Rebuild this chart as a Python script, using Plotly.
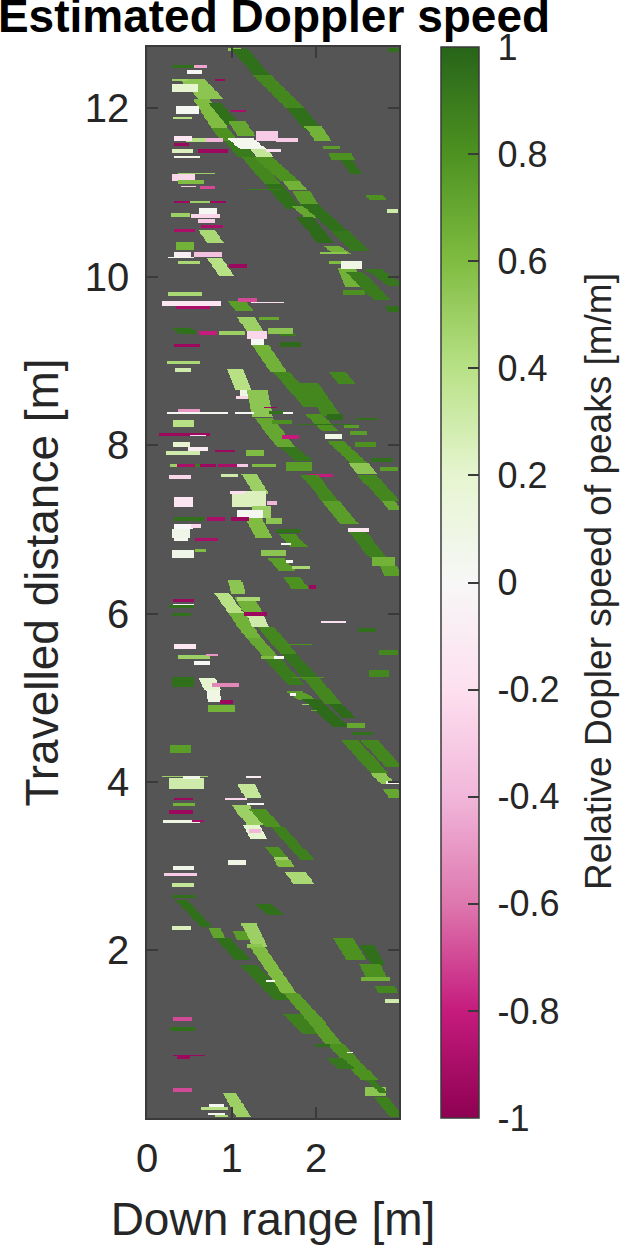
import numpy as np
import plotly.graph_objects as go

# streaks: (y_top, y_bottom, x_centre_top, x_centre_bottom, width, value)
far_upper = [
 (12.72,12.69,1.04,1.04,.16,.55),(12.70,12.40,1.10,1.35,.2,.95),(12.40,12.01,1.35,1.75,.22,.85),
 (12.01,11.75,1.75,1.96,.2,.95),(11.79,11.61,1.96,2.08,.2,.65),(11.55,11.51,2.18,2.18,.2,.75),
 (11.47,11.38,2.28,2.32,.28,.8),(11.38,11.22,2.36,2.48,.14,.95),(12.71,12.67,2.91,2.91,.12,.95),
 (10.98,10.92,2.68,2.72,.2,.8),(10.80,10.76,2.9,2.9,.14,.3),
]
main_upper_a = [
 (12.36,12.11,.52,.76,.3,.55),(12.11,11.77,.64,.86,.2,.6),(11.77,11.61,.86,.98,.2,.8),
 (11.61,11.42,1.02,1.18,.2,.9),(11.42,11.10,1.21,1.49,.2,.85),(11.10,10.80,1.49,1.75,.2,.95),
 (11.05,11.03,1.38,1.38,.4,.9),(10.84,10.70,1.81,1.98,.2,.7),(10.72,10.39,1.85,2.12,.2,.97),
 (10.37,10.27,2.17,2.32,.2,.65),(10.29,10.27,2.2,2.2,.32,.55),
]
main_upper_b = [
 (12.07,11.81,.80,1.02,.16,.95),(11.85,11.67,1.06,1.18,.2,.7),(11.55,11.42,1.28,1.4,.2,.35),
 (11.65,11.51,1.10,1.26,.3,.05),(11.42,11.14,1.37,1.69,.22,.8),(11.14,11.04,1.7,1.78,.2,.65),
 (11.02,10.86,1.82,1.92,.2,.75),(10.86,10.54,1.92,2.28,.2,.95),(10.54,10.31,2.28,2.52,.22,.92),
 (10.19,10.15,2.22,2.22,.14,.6),(10.10,9.87,2.36,2.46,.22,.65),(9.85,9.79,2.45,2.45,.26,.8),
 (10.07,9.73,2.44,2.77,.2,.9),(10.09,9.89,2.67,2.95,.2,.92),(10.19,10.09,2.42,2.42,.26,.1),
 (9.66,9.58,2.88,2.93,.16,.95),
]
left_upper = [
 (12.52,12.48,.43,.43,.26,.95),(12.52,12.48,.63,.63,.16,-.45),(12.45,12.41,.56,.56,.18,.02),
 (12.36,12.32,.39,.39,.18,.5),(12.36,12.32,.87,.87,.12,-.95),(12.29,12.20,.45,.45,.3,.2),
 (12.03,11.93,.48,.48,.26,.03),(11.90,11.87,.42,.42,.22,.4),(11.98,11.96,1.08,1.08,.16,-.9),
 (11.64,11.60,.66,.66,.4,.4),(11.65,11.60,.80,.80,.2,-.4),(11.67,11.61,.43,.43,.2,-.15),
 (11.58,11.55,.41,.41,.16,-.95),(11.51,11.47,.42,.42,.24,.25),(11.51,11.47,.78,.78,.36,-.95),
 (11.44,11.41,.47,.47,.3,.1),(11.73,11.61,1.42,1.42,.26,-.3),(11.64,11.60,1.66,1.66,.26,-.3),
 (11.51,11.49,1.5,1.5,.18,-.2),(11.24,11.22,.59,.59,.44,.5),(11.22,11.14,.43,.43,.26,-.25),
 (11.15,11.11,.52,.52,.3,.6),(11.08,11.06,.49,.49,.18,-.3),(11.08,11.05,.72,.72,.18,-.7),
 (10.91,10.87,.63,.63,.62,-.95),(10.91,10.87,.62,.62,.24,.5),(10.82,10.74,.72,.72,.22,.03),
 (10.76,10.72,.4,.4,.22,.5),(10.74,10.70,.69,.69,.34,-.25),(10.68,10.64,.70,.70,.2,-.3),
 (10.56,10.39,.7,.82,.2,.45),(10.62,10.58,.77,.77,.26,-.9),(10.57,10.53,.44,.44,.24,-.9),
 (10.41,10.33,.45,.45,.2,.65),(10.29,10.23,.42,.42,.2,-.1),(10.29,10.23,.72,.72,.34,-.35),
 (10.24,10.22,.4,.4,.3,.05),(10.19,10.15,.5,.5,.25,.45),(10.22,10.0,.8,.95,.18,.4),
 (10.15,10.11,1.07,1.07,.2,-.95),(9.82,9.78,.45,.45,.4,.45),(9.72,9.66,.53,.53,.7,-.15),
 (9.65,9.61,.55,.55,.4,-.9),(9.72,9.60,1.05,1.15,.2,.75),(9.74,9.70,1.19,1.19,.22,-.7),
 (9.70,9.68,1.42,1.42,.4,-.2),
]
middle_a = [
 (9.52,9.34,1.17,1.28,.2,.5),(9.52,9.48,1.44,1.44,.25,.7),(9.40,9.32,1.58,1.58,.3,.55),
 (9.33,9.29,1.67,1.67,.2,.9),(9.40,9.32,.4,.5,.22,.95),(9.35,9.31,.72,.72,.22,-.8),
 (9.35,9.31,1.0,1.0,.3,.5),(9.35,9.26,1.3,1.3,.24,-.25),(9.26,9.20,1.3,1.3,.16,.02),
 (9.20,8.88,1.33,1.55,.2,.65),(8.88,8.45,1.58,1.96,.2,.85),(8.37,8.17,1.96,2.16,.2,.8),
 (9.22,9.17,1.7,1.7,.26,.97),(9.21,9.17,.47,.47,.3,-.95),(9.00,8.96,.43,.43,.38,.45),
 (8.92,8.88,.43,.43,.18,.3),(8.90,8.65,1.04,1.14,.18,.4),(8.65,8.57,1.2,1.2,.2,.1),
 (8.59,8.55,1.18,1.18,.24,-.25),(8.65,8.34,1.3,1.36,.25,.55),(8.33,7.97,1.37,1.65,.22,.7),
 (7.97,7.82,1.68,1.85,.2,.92),(8.46,8.44,1.46,1.46,.15,-.95),(8.41,8.37,1.53,1.53,.18,.95),
 (8.39,8.37,1.15,1.15,.22,.02),(8.39,8.37,1.67,1.67,.12,.02),(8.43,8.39,.5,.5,.25,-.5),
 (8.40,8.37,.6,.6,.72,.03),(8.29,8.22,.43,.43,.24,.4),(8.29,8.25,1.6,1.6,.24,.8),
 (8.25,8.23,2.1,2.1,.65,.95),(8.33,8.29,2.6,2.6,.25,.95),(8.15,8.11,.45,.45,.6,-.95),
 (8.12,8.10,.6,.6,.2,-.2),(8.12,8.08,1.7,1.7,.2,-.8),(8.14,8.08,2.2,2.2,.2,.1),
 (8.16,8.12,2.5,2.5,.2,.75),(8.24,8.20,2.42,2.42,.18,.75),(8.03,7.97,.41,.41,.2,.2),
 (8.03,7.97,2.58,2.58,.24,.8),(7.93,7.89,.43,.43,.4,.3),(7.97,7.93,.6,.6,.24,-.1),
 (7.95,7.91,.93,.93,.24,-.95),(7.95,7.88,1.27,1.27,.22,.6),
]
middle_row = [
 (7.77,7.74,.33,.33,.1,.5),(7.77,7.74,.46,.46,.2,-.9),(7.77,7.74,.6,.6,.08,.9),
 (7.77,7.74,.72,.72,.2,-.95),(7.77,7.74,.96,.96,.24,-.9),(7.77,7.74,1.13,1.13,.12,-.3),
 (7.77,7.74,1.38,1.38,.28,.6),
]
middle_b = [
 (7.80,7.70,1.8,1.8,.3,.75),(7.66,7.62,2.05,2.05,.3,-.8),(7.64,7.34,1.92,2.16,.2,.85),
 (7.34,7.06,2.16,2.4,.22,.75),(8.05,7.78,2.22,2.52,.2,.8),(7.78,7.66,2.5,2.6,.22,.55),
 (7.64,7.34,2.6,2.87,.22,.85),(7.34,7.24,2.84,2.93,.16,.7),(7.74,7.70,2.86,2.86,.22,.75),
 (7.84,7.80,2.77,2.77,.26,.95),(8.75,8.35,1.9,2.18,.22,.85),(8.88,8.73,2.24,2.36,.2,.85),
 (8.37,8.29,2.22,2.22,.18,.97),(7.66,7.62,.98,.98,.2,.3),(7.64,7.60,.39,.39,.25,-.25),
 (7.66,7.42,1.2,1.35,.18,.5),(7.46,7.26,1.21,1.21,.4,.25),(7.46,7.42,1.07,1.07,.17,-.2),
 (7.38,7.27,.43,.43,.22,-.15),(7.34,7.30,1.48,1.48,.12,-.4),(7.28,7.14,1.35,1.35,.22,.5),
 (7.24,7.14,1.22,1.22,.3,.03),(7.14,7.06,1.5,1.5,.2,.55),(7.14,6.90,1.25,1.38,.2,.6),
 (7.15,7.11,.5,.5,.35,.95),(7.15,7.11,.82,.82,.22,-.9),(7.15,7.11,1.1,1.1,.2,-.95),
 (7.06,7.00,.43,.43,.22,.0),(7.06,7.02,.58,.58,.12,-.25),(7.00,6.90,.4,.4,.2,.08),
 (6.90,6.86,.4,.4,.16,.05),(6.90,6.86,.7,.7,.28,-.9),(7.00,6.96,1.67,1.67,.3,.95),
 (7.02,6.98,2.5,2.5,.24,-.15),(6.98,6.66,2.48,2.73,.2,.88),(6.67,6.57,2.79,2.79,.28,.65),
 (6.57,6.45,2.85,2.9,.2,.75),(6.95,6.79,1.65,1.8,.2,.8),(6.85,6.81,1.65,1.65,.12,.02),
 (6.75,6.69,1.5,1.5,.3,.55),(6.75,6.65,.43,.43,.25,.08),(6.77,6.73,.63,.63,.14,.6),
 (6.65,6.51,1.53,1.66,.2,.75),(6.64,6.60,1.69,1.69,.08,.02),(6.57,6.53,1.82,1.82,.2,.45),
 (6.44,6.29,1.71,1.81,.2,.8),(6.34,6.30,1.95,1.95,.08,-.95),
]
pair_a = [
 (6.39,6.23,1.04,1.08,.16,.55),(6.25,6.0,.88,1.06,.18,.4),(6.0,5.72,1.06,1.25,.18,.65),
 (5.72,5.48,1.25,1.47,.18,.7),(5.48,5.15,1.47,1.77,.2,.9),(5.07,4.97,1.75,1.9,.2,.75),
 (4.99,4.65,1.92,2.3,.2,.97),(4.49,4.10,2.4,2.75,.2,.85),(4.10,3.98,2.72,2.85,.18,.55),
 (4.02,3.98,2.92,2.92,.2,.02),(3.92,3.82,2.87,2.94,.18,.7),
]
pair_b = [
 (6.19,6.02,1.15,1.25,.22,.65),(6.19,6.15,1.2,1.2,.26,.45),(6.02,5.98,1.28,1.28,.28,-.95),
 (5.97,5.84,1.28,1.34,.2,.3),(5.84,5.52,1.4,1.68,.2,.85),(5.52,5.24,1.68,1.93,.18,.93),
 (5.24,4.93,1.93,2.2,.2,.85),(4.93,4.75,2.22,2.4,.16,.97),(5.64,5.62,1.8,1.8,.3,.8),
 (5.25,5.23,1.9,1.9,.37,.8),(4.70,4.64,2.47,2.47,.22,.7),(4.59,4.55,2.55,2.55,.24,.95),
 (4.49,4.18,2.63,2.91,.2,.85),(5.06,5.02,1.73,1.73,.08,.02),(4.93,4.91,1.87,1.87,.07,.5),
 (4.86,4.84,1.97,1.97,.08,.7),(5.50,5.46,1.45,1.45,.2,.6),(5.50,5.47,1.56,1.56,.12,.02),
]
left_lower = [
 (6.18,6.14,.43,.43,.24,-.95),(6.12,6.10,.43,.43,.24,-.05),(6.10,6.06,.41,.41,.28,.95),
 (6.01,5.97,.41,.41,.22,.95),(5.64,5.58,.45,.45,.26,-.15),(5.51,5.47,.56,.56,.38,.5),
 (5.52,5.49,.77,.77,.14,-.5),(5.44,5.40,.65,.65,.2,.02),(5.25,5.14,.43,.43,.25,.95),
 (5.24,5.09,.7,.78,.2,.2),(5.09,4.95,.78,.8,.16,.1),(5.18,5.14,.93,.93,.32,-.55),
 (4.97,4.93,.94,.94,.16,-.95),(4.92,4.83,.88,.88,.33,.65),(5.92,5.88,2.2,2.2,.3,-.2),
 (5.83,5.79,2.6,2.6,.2,.95),(5.57,5.51,2.85,2.85,.22,.85),(5.34,5.25,2.74,2.74,.24,.85),
 (4.44,4.35,.4,.4,.24,.75),(4.08,4.06,.45,.45,.55,.5),(4.05,3.92,.47,.47,.4,.3),
 (4.07,4.03,.52,.52,.2,.1),(4.08,4.04,1.26,1.26,.18,-.1),(3.82,3.78,.43,.43,.22,-.95),
 (3.75,3.71,.44,.44,.25,.65),(3.67,3.63,.4,.4,.27,-.95),(3.55,3.51,.41,.41,.43,.1),
 (3.55,3.53,.6,.6,.14,-.9),
]
cluster_lower = [
 (3.98,3.82,1.17,1.25,.2,.35),(3.82,3.78,1.05,1.05,.26,-.25),(3.76,3.72,1.28,1.28,.2,.02),
 (3.73,3.5,1.1,1.27,.2,.5),(3.5,3.32,1.22,1.32,.2,.2),(3.44,3.40,1.27,1.27,.15,-.4),
 (3.68,3.46,1.3,1.5,.2,.8),(3.46,3.07,1.55,1.9,.16,.88),(3.24,3.10,1.47,1.58,.17,.8),
 (3.10,2.99,1.58,1.65,.17,.5),(3.07,2.98,1.6,1.65,.2,.6),(3.07,3.01,1.06,1.06,.2,.1),
 (3.00,2.96,.43,.43,.24,.08),(2.93,2.79,1.75,1.85,.24,.45),(2.91,2.88,.4,.4,.38,-.3),
 (2.80,2.76,.43,.43,.25,.35),(2.66,2.62,.44,.44,.27,.95),
]
bottom_a = [
 (2.59,2.28,.41,.7,.14,.95),(2.26,2.14,.8,.86,.14,.72),(2.14,1.88,.9,1.14,.18,.95),
 (1.82,1.41,1.2,1.6,.2,.93),(2.55,2.42,1.37,1.52,.2,.95),(2.29,2.25,.41,.41,.22,.25),
 (2.32,2.04,1.2,1.33,.18,.5),(2.24,2.12,1.08,1.14,.14,.75),(2.07,2.03,1.27,1.27,.18,.55),
 (2.04,1.49,1.3,1.68,.18,.6),(1.49,1.21,1.7,1.95,.18,.75),(1.25,1.0,1.71,1.96,.22,.88),
 (1.21,.89,1.95,2.2,.2,.75),(.89,.46,2.22,2.63,.2,.8),(.38,.28,2.7,2.7,.24,.55),
]
bottom_b = [
 (.46,.3,2.63,2.8,.1,.9),(.26,.02,2.75,2.95,.17,.88),(.89,.85,2.07,2.07,.18,.95),
 (.73,.6,2.2,2.35,.2,.92),(.80,.78,2.4,2.4,.07,.02),(1.65,1.63,1.46,1.46,.1,.02),
 (2.14,1.88,2.32,2.48,.24,.8),(2.06,1.82,2.6,2.73,.16,.95),(1.84,1.66,2.63,2.72,.24,.8),
 (1.68,1.64,2.7,2.7,.34,.65),(1.58,1.49,2.8,2.85,.24,.85),(1.42,1.38,2.89,2.89,.16,.3),
 (1.20,1.16,.42,.42,.22,-.7),(1.08,1.04,.42,.42,.28,.95),(.76,.74,.5,.5,.37,-.95),
 (.75,.71,.43,.43,.15,-.95),(.36,.32,.42,.42,.22,-.7),(.3,.02,.98,1.14,.16,.5),
 (.14,.10,.8,.8,.33,.4),(.18,.14,.82,.82,.18,.05),(.07,.05,.82,.82,.2,.05),(.05,.01,.88,.88,.16,.45),
]
streak_groups = [far_upper, main_upper_a, main_upper_b, left_upper, middle_a, middle_row,
                 middle_b, pair_a, pair_b, left_lower, cluster_lower, bottom_a, bottom_b]

colorbar_ticks = [1,.8,.6,.4,.2,0,-.2,-.4,-.6,-.8,-1]
colorbar_labels = ["1","0.8","0.6","0.4","0.2","0","-0.2","-0.4","-0.6","-0.8","-1"]

xg = np.arange(0.006, 2.985, 0.012)
yg = np.arange(0.007, 12.74, 0.0145)
z = np.full((yg.size, xg.size), np.nan)
for group in streak_groups:
    for y1, y2, x1, x2, w, v in group:
        rows = np.where((yg <= y1) & (yg >= y2))[0]
        if rows.size == 0:
            rows = np.array([np.argmin(abs(yg - (y1 + y2) / 2))])
        for r in rows:
            t = (y1 - yg[r]) / max(y1 - y2, 1e-6)
            c = x1 + (x2 - x1) * t
            z[r, (xg >= c - w / 2) & (xg <= c + w / 2)] = v

ink = "#262626"
frame = "#3a3a3a"
fnt = "Liberation Sans"
fig = go.Figure(go.Heatmap(
    x=xg, y=yg, z=z, zmin=-1, zmax=1, colorscale="PiYG", hoverongaps=False,
    colorbar=dict(
        x=441/620, xref="container", xanchor="left", thickness=38, thicknessmode="pixels",
        y=0, yanchor="bottom", len=1, lenmode="fraction",
        outlinecolor=frame, outlinewidth=1.5, ticks="inside", ticklen=11, tickcolor=frame, tickwidth=1.5,
        tickvals=colorbar_ticks, ticktext=["\u00a0" + s for s in colorbar_labels],
        tickfont=dict(family=fnt, size=36, color=ink), ypad=0, xpad=0),
))
fig.update_layout(
    width=620, height=1249, paper_bgcolor="white", plot_bgcolor="#555555",
    margin=dict(l=147, r=221, t=47, b=131), showlegend=False,
    title=dict(text="<b>Estimated Doppler speed</b>", x=274/620, xanchor="center", xref="container",
               y=1, yanchor="top", yref="container",
               font=dict(family=fnt, size=46, color="black"), pad=dict(t=0)),
    xaxis=dict(range=[0, 2.98], tickvals=[0,1,2], ticks="inside", ticklen=11, tickcolor=frame, tickwidth=1.5,
               mirror="allticks", showline=True, linecolor=frame, linewidth=1.5, showgrid=False, zeroline=False,
               tickfont=dict(family=fnt, size=40, color=ink), ticklabelstandoff=4,
               title=dict(text="Down range [m]", font=dict(family=fnt, size=46, color=ink), standoff=24)),
    yaxis=dict(range=[0.01, 12.73], tickvals=[2,4,6,8,10,12], ticks="inside", ticklen=11, tickcolor=frame, tickwidth=1.5,
               mirror="allticks", showline=True, linecolor=frame, linewidth=1.5, showgrid=False, zeroline=False,
               tickfont=dict(family=fnt, size=40, color=ink), ticklabelstandoff=8,
               title=dict(text="Travelled distance [m]", font=dict(family=fnt, size=46, color=ink), standoff=12)),
    annotations=[dict(text="Relative Dopler speed of peaks [m/m]", textangle=-90, xref="paper", yref="paper",
                      x=(598-147)/252, y=(1118-582)/1071, showarrow=False, xanchor="center", yanchor="middle",
                      font=dict(family=fnt, size=37, color=ink))],
)
fig.write_html("out.html", post_script="document.body.style.margin='0';", config={"displayModeBar": False})
